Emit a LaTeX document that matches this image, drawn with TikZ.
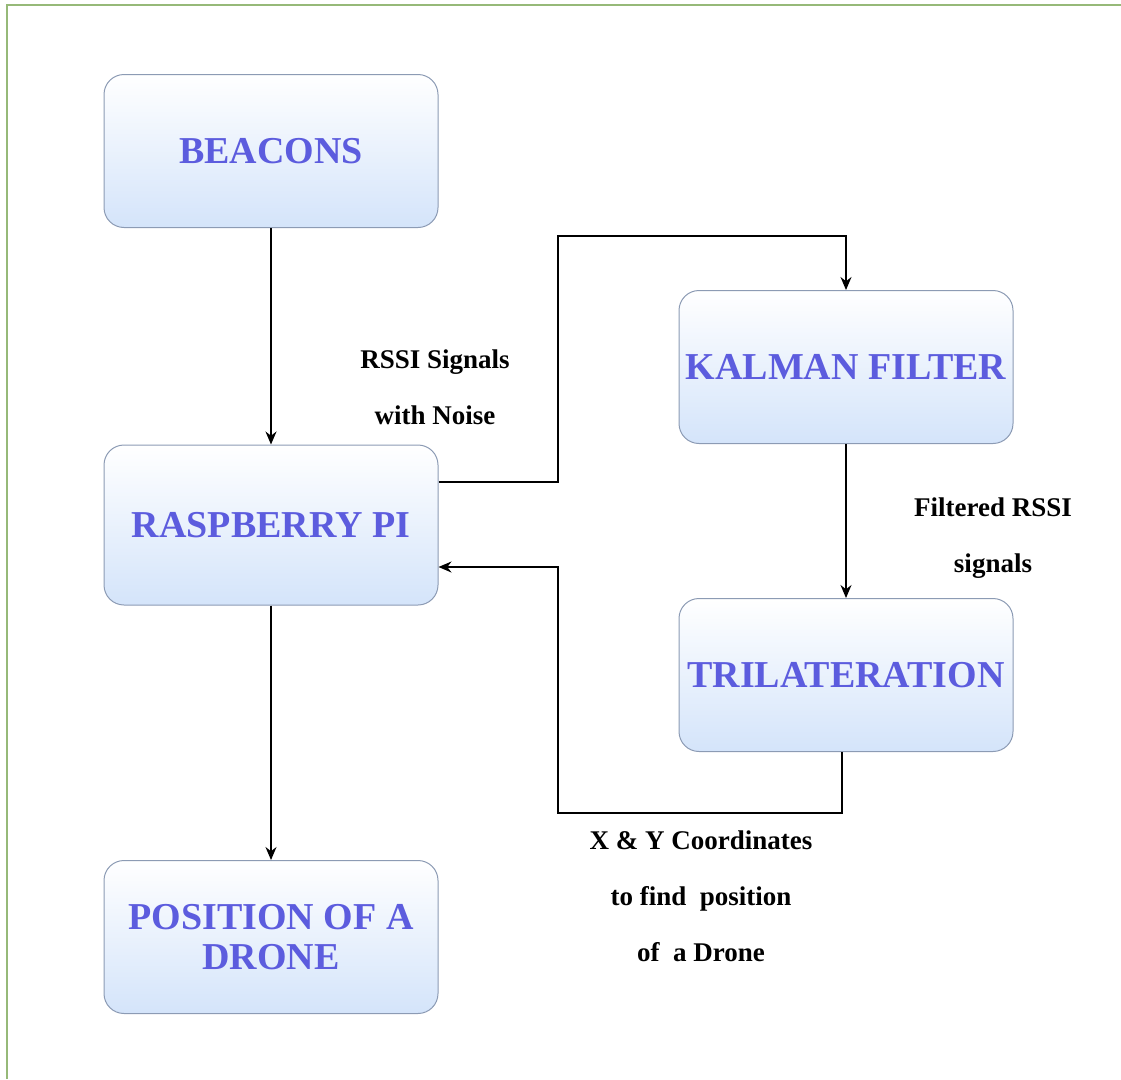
\documentclass[tikz,border=0pt]{standalone}
\usepackage{fontspec}
\setmainfont{Liberation Serif}[BoldFont={Liberation Serif Bold}]
\usetikzlibrary{arrows.meta}
\definecolor{boxblue}{RGB}{212,228,250}
\definecolor{boxline}{RGB}{140,155,180}
\definecolor{boxtext}{RGB}{92,92,222}
\definecolor{frameline}{RGB}{150,185,120}
\begin{document}
\begin{tikzpicture}[x=1pt, y=-1pt,
    every node/.style={inner sep=0pt, text centered},
    block/.style={draw=boxline, line width=1pt, rounded corners=20pt, top color=white, bottom color=boxblue,
        minimum width=334pt, minimum height=153pt, text=boxtext, align=center,
        font=\rmfamily\bfseries\fontsize{38}{40}\selectfont},
    note/.style={align=center, font=\rmfamily\bfseries\fontsize{27}{56}\selectfont},
    flow/.style={draw, line width=1.3pt, -{Stealth[length=13pt, width=11pt]}}]
\useasboundingbox (0,0) rectangle (1121,1079);
\draw[frameline, line width=1.5pt] (7,1079) -- (7,5) -- (1121,5);

% blocks
\node [block] (beacons) at (271,151) {BEACONS};
\node [block, minimum height=160pt] (rpi) at (271,525) {RASPBERRY PI};
\node [block] (drone) at (271,937) {POSITION OF A\\DRONE};
\node [block] (kalman) at (846,367) {KALMAN FILTER};
\node [block] (tri) at (846,675) {TRILATERATION};

% labels
\node [note] (rssi) at (435,387) {RSSI Signals\\with Noise};
\node [note] (filt) at (993,538) {Filtered RSSI\\signals};
\node [note] (xy) at (701,896) {X \& Y Coordinates\\to find~ position\\of~ a Drone};

\coordinate (upbend) at (558,236);
\coordinate (lowbend) at (558,813);

% connectors
\draw [flow] (beacons.south) -- (rpi.north);
\draw [flow] (rpi.south) -- (drone.north);
\draw [flow] ([yshift=43pt]rpi.east) -| (upbend) -| (kalman.north);
\draw [flow] (kalman.south) -- (tri.north);
\draw [flow] ([xshift=-4pt]tri.south) |- (lowbend) |- ([yshift=-42pt]rpi.east);
\end{tikzpicture}
\end{document}
